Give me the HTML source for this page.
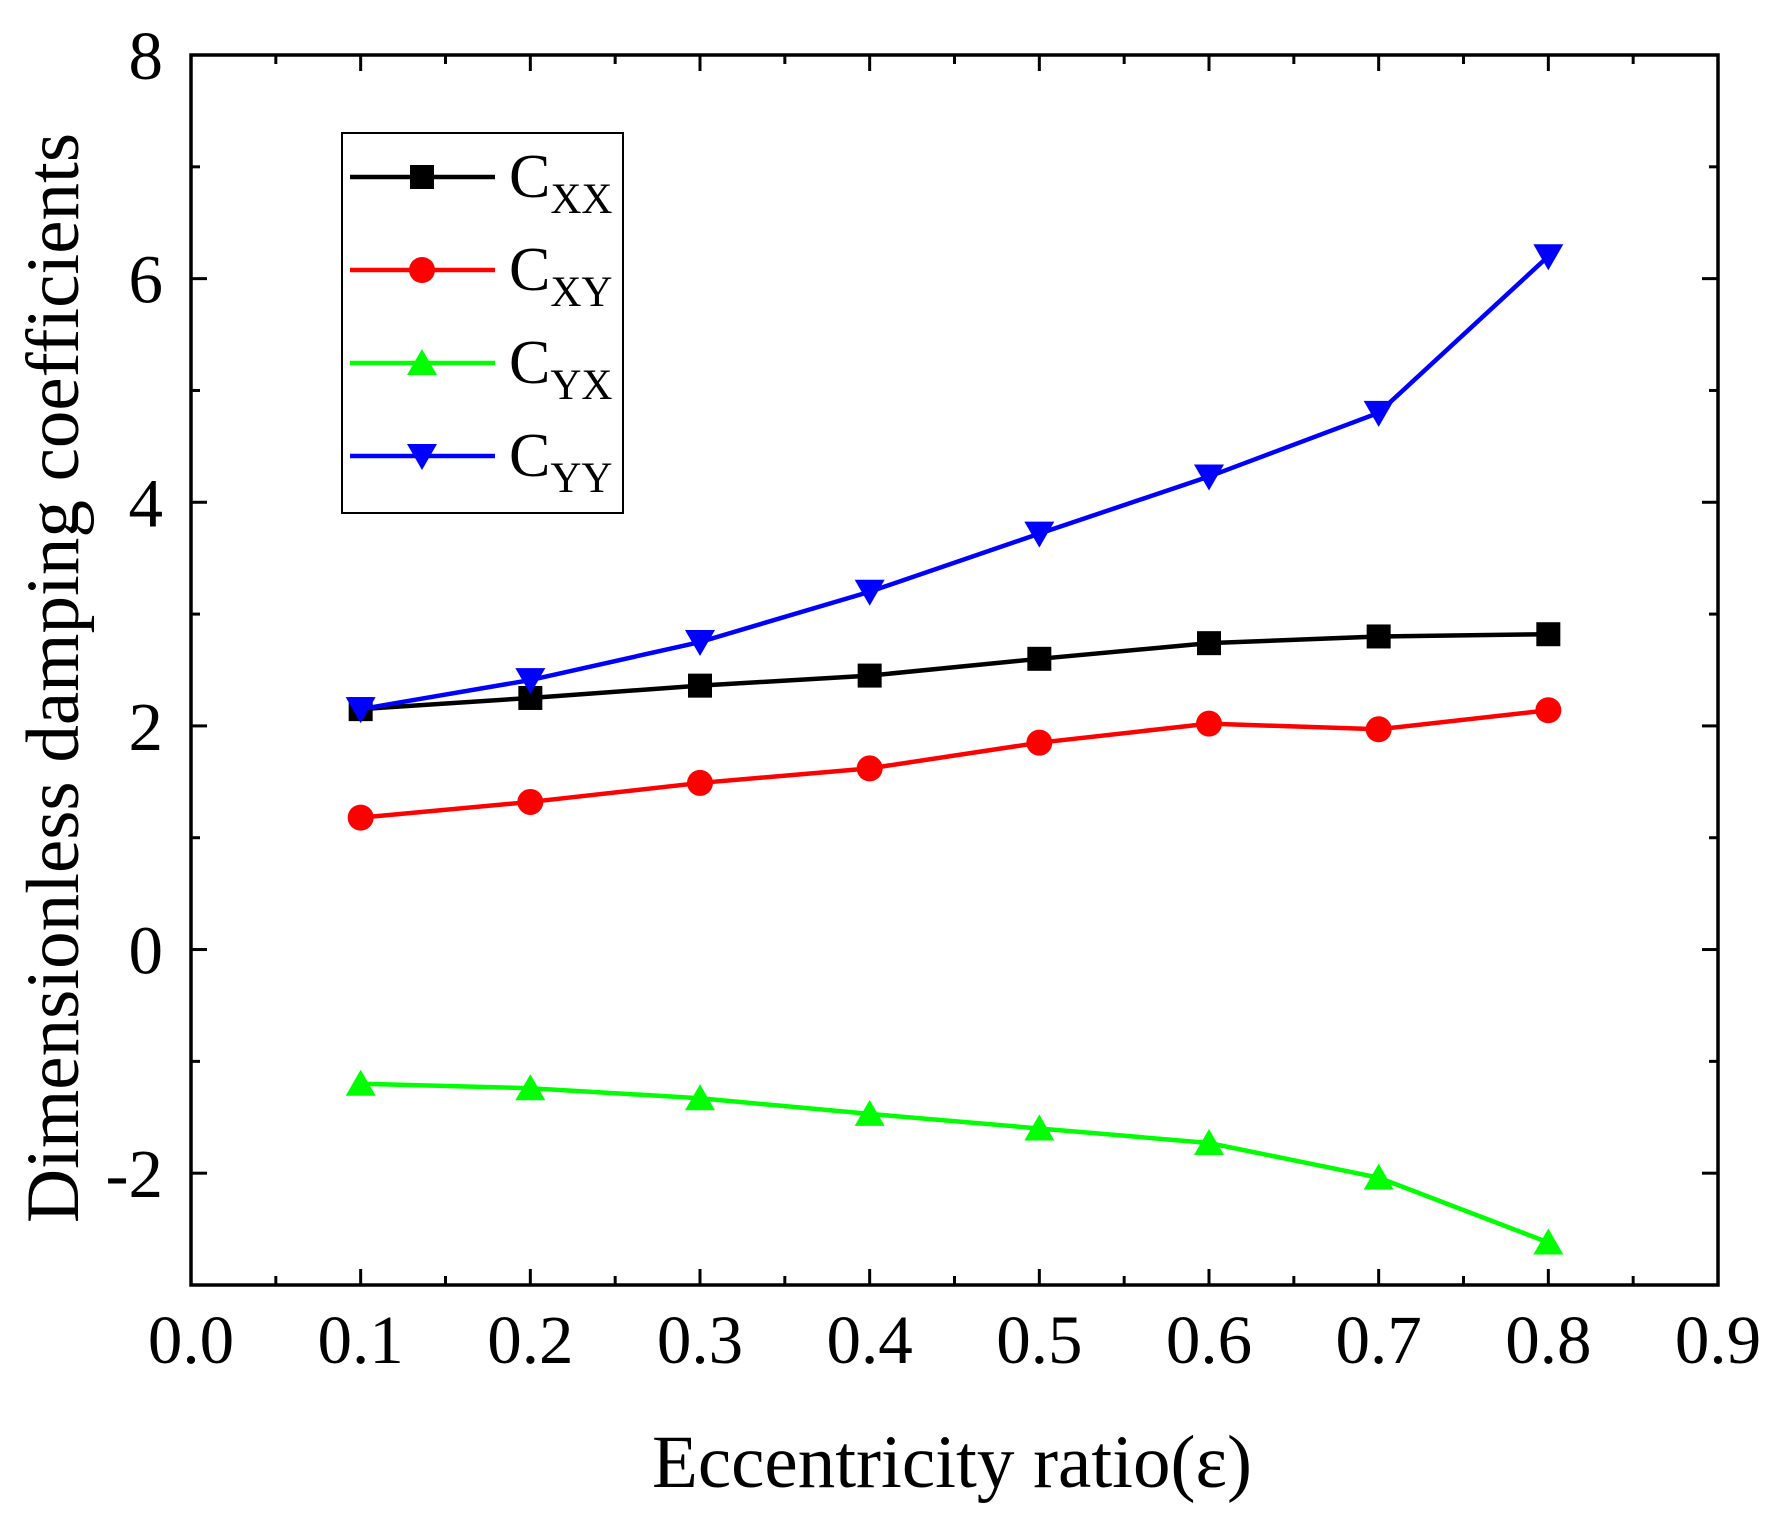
<!DOCTYPE html>
<html><head><meta charset="utf-8"><style>
html,body{margin:0;padding:0;background:#fff;}
svg{display:block;font-family:"Liberation Serif",serif;}
</style></head><body>
<svg id="chart" width="1777" height="1521" viewBox="0 0 1777 1521" xmlns="http://www.w3.org/2000/svg">
<g id="grid"></g>
<g id="series"></g>
<text transform="translate(78,678) rotate(-90)" text-anchor="middle" font-size="75">Dimensionless damping coefficients</text>
<text x="952" y="1487" text-anchor="middle" font-size="75">Eccentricity ratio(ε)</text>
<g id="legend"></g>
</svg>
<script>
const xCats=[0.1,0.2,0.3,0.4,0.5,0.6,0.7,0.8];
const cxx=[2.15,2.25,2.36,2.45,2.6,2.74,2.8,2.82];
const cxy=[1.18,1.32,1.49,1.62,1.85,2.02,1.97,2.14];
const cyx=[-1.2,-1.24,-1.33,-1.47,-1.6,-1.73,-2.04,-2.62];
const cyy=[2.15,2.41,2.75,3.2,3.72,4.23,4.8,6.2];
const xTicks=["0.0","0.1","0.2","0.3","0.4","0.5","0.6","0.7","0.8","0.9"];
const yTicks=["-2","0","2","4","6","8"];
const L=191,R=1718,T=55,B=1285,xmin=0,xmax=0.9,ymin=-3,ymax=8;
const X=v=>L+(v-xmin)/(xmax-xmin)*(R-L);
const Y=v=>B-(v-ymin)/(ymax-ymin)*(B-T);
const NS="http://www.w3.org/2000/svg";
function mk(tag,attrs,parent){const e=document.createElementNS(NS,tag);for(const k in attrs)e.setAttribute(k,attrs[k]);parent.appendChild(e);return e;}
const g=document.getElementById('grid');
const frame=mk('rect',{x:L,y:T,width:R-L,height:B-T,fill:'none',stroke:'#000','stroke-width':3.5},g);


for(let i=0;i<=18;i++){const v=i*0.05,x=X(v),len=i%2?9:16;
 mk('line',{x1:x,y1:B,x2:x,y2:B-len,stroke:'#000','stroke-width':3},g);
 mk('line',{x1:x,y1:T,x2:x,y2:T+len,stroke:'#000','stroke-width':3},g);}
xTicks.forEach(t=>{const tx=mk('text',{x:X(parseFloat(t)),y:1363,'text-anchor':'middle','font-size':69},g);tx.textContent=t;
 
 });
for(let v=-3;v<=8;v++){const y=Y(v),len=(v%2===0)?16:9;
 mk('line',{x1:L,y1:y,x2:L+len,y2:y,stroke:'#000','stroke-width':3},g);
 mk('line',{x1:R,y1:y,x2:R-len,y2:y,stroke:'#000','stroke-width':3},g);}
yTicks.forEach(t=>{const tx=mk('text',{x:163,y:Y(parseFloat(t))+24,'text-anchor':'end','font-size':69},g);tx.textContent=t;
 
 });
function marker(type,x,y,c,p){
 if(type==='sq')return mk('rect',{x:x-12,y:y-12,width:24,height:24,fill:c},p);
 if(type==='ci')return mk('circle',{cx:x,cy:y,r:13,fill:c},p);
 if(type==='up')return mk('polygon',{points:`${x},${y-14} ${x-15},${y+12} ${x+15},${y+12}`,fill:c},p);
 return mk('polygon',{points:`${x},${y+14} ${x-15},${y-12} ${x+15},${y-12}`,fill:c},p);}
const S=[["cxx",cxx,'#000','sq','XX'],["cxy",cxy,'#f00','ci','XY'],["cyx",cyx,'#0f0','up','YX'],["cyy",cyy,'#00f','dn','YY']];
const sg=document.getElementById('series');
S.forEach(([n,d,c,m])=>{
 const pl=mk('polyline',{points:d.map((v,i)=>X(xCats[i])+','+Y(v)).join(' '),fill:'none',stroke:c,'stroke-width':4.5},sg);
 
 
 d.forEach((v,i)=>{const mm=marker(m,X(xCats[i]),Y(v),c,sg);
  
  });
});
const lg=document.getElementById('legend');
mk('rect',{x:342,y:133,width:281,height:380,fill:'#fff',stroke:'#000','stroke-width':2},lg);
S.forEach(([n,d,c,m,sub],i)=>{const y=177+i*93;
 mk('line',{x1:350,y1:y,x2:495,y2:y,stroke:c,'stroke-width':4.5},lg);
 marker(m,422,y,c,lg);
 const t=mk('text',{x:509,y:y+20,'font-size':62},lg);
 t.innerHTML='C<tspan font-size="43" dy="16">'+sub+'</tspan>';
 
 });
</script>
</body></html>
